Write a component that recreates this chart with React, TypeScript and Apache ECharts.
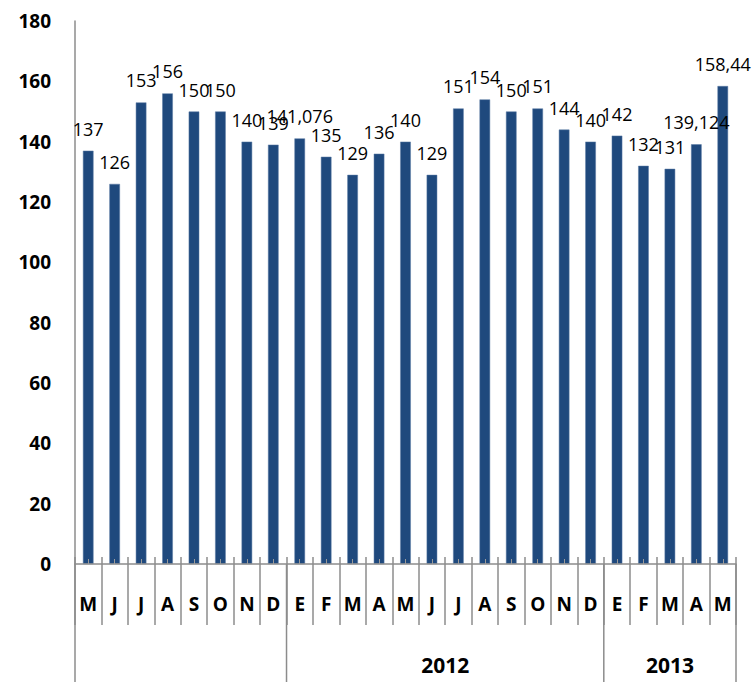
import React, { useEffect, useRef } from "react";
import * as echarts from "echarts";

const months = ["M", "J", "J", "A", "S", "O", "N", "D", "E", "F", "M", "A", "M", "J", "J", "A", "S", "O", "N", "D", "E", "F", "M", "A", "M"];
const values = [137, 126, 153, 156, 150, 150, 140, 139, 141.076, 135, 129, 136, 140, 129, 151, 154, 150, 151, 144, 140, 142, 132, 131, 139.124, 158.44];
const yearLabels = ["", "2012", "2013"];
const yearCounts = [8, 12, 5];
const yTicks = { min: 0, max: 180, interval: 20 };

const AXIS_COLOR = "#8c8c8c";
const BAR_COLOR = "#1F497D";
const FONT = "'Open Sans', 'Liberation Sans', sans-serif";

export default function App() {
  const ref = useRef<HTMLDivElement>(null);
  useEffect(() => {
    document.body.style.margin = "0";
    const chart = echarts.init(ref.current!, null, { renderer: "svg" });
    const baseX = {
      type: "category" as const,
      data: months,
      position: "bottom" as const,
      boundaryGap: true,
    };
    chart.setOption({
      animation: false,
      grid: { left: 75, right: 18, top: 21, bottom: 118 },
      xAxis: [
        {
          ...baseX,
          z: 10,
          axisLine: { show: true, lineStyle: { color: AXIS_COLOR, width: 1.5 } },
          axisTick: { show: true, interval: 0, length: 61, lineStyle: { color: AXIS_COLOR, width: 1.5 } },
          axisLabel: { interval: 0, margin: 30, fontFamily: FONT, fontWeight: "bold", fontSize: 19, color: "#000" },
        },
        {
          ...baseX,
          z: 10,
          axisLine: { show: false },
          axisTick: { show: true, inside: true, interval: 0, length: 7, lineStyle: { color: AXIS_COLOR, width: 1.5 } },
          axisLabel: { show: false },
        },
        {
          ...baseX,
          z: 10,
          axisLine: { show: false },
          axisTick: { show: true, inside: true, alignWithLabel: true, interval: 0, length: 5, lineStyle: { color: "#9a9a9a", width: 1 } },
          axisLabel: { show: false },
        },
      ],
      yAxis: {
        type: "value",
        min: yTicks.min,
        max: yTicks.max,
        interval: yTicks.interval,
        axisLine: { show: true, lineStyle: { color: AXIS_COLOR, width: 1.5 } },
        axisTick: { show: false },
        splitLine: { show: false },
        axisLabel: { margin: 24, fontFamily: FONT, fontWeight: "bold", fontSize: 19, color: "#000" },
      },
      series: [
        {
          type: "bar",
          data: values,
          barWidth: "40%",
          itemStyle: { color: BAR_COLOR, borderColor: "#5a7aa5", borderWidth: 0.5 },
          label: {
            show: true,
            position: "top",
            distance: 13,
            fontFamily: FONT,
            fontSize: 18,
            color: "#000",
            formatter: (p: any) => String(p.value).replace(".", ","),
          },
        },
      ],
    });

    const cx = (i: number) => chart.convertToPixel({ xAxisIndex: 0 }, i) as number;
    const band = cx(1) - cx(0);
    const y0 = chart.convertToPixel({ yAxisIndex: 0 }, 0) as number;
    const h = chart.getHeight();
    const elements: any[] = [];
    let start = 0;
    const bounds: number[] = [cx(0) - band / 2];
    yearCounts.forEach((cnt, gi) => {
      const left = cx(start) - band / 2;
      const right = cx(start + cnt - 1) + band / 2;
      bounds.push(right);
      if (yearLabels[gi]) {
        elements.push({
          type: "text",
          x: (left + right) / 2,
          y: h - 17,
          style: {
            text: yearLabels[gi],
            fill: "#000",
            font: `bold 21px ${FONT}`,
            textAlign: "center",
            textVerticalAlign: "middle",
          },
        });
      }
      start += cnt;
    });
    bounds.forEach((bx) => {
      elements.push({
        type: "line",
        shape: { x1: bx, y1: y0, x2: bx, y2: h },
        style: { stroke: AXIS_COLOR, lineWidth: 1.5 },
      });
    });
    chart.setOption({ graphic: { elements } });

    return () => chart.dispose();
  }, []);
  return <div ref={ref} style={{ width: 754, height: 682 }} />;
}
